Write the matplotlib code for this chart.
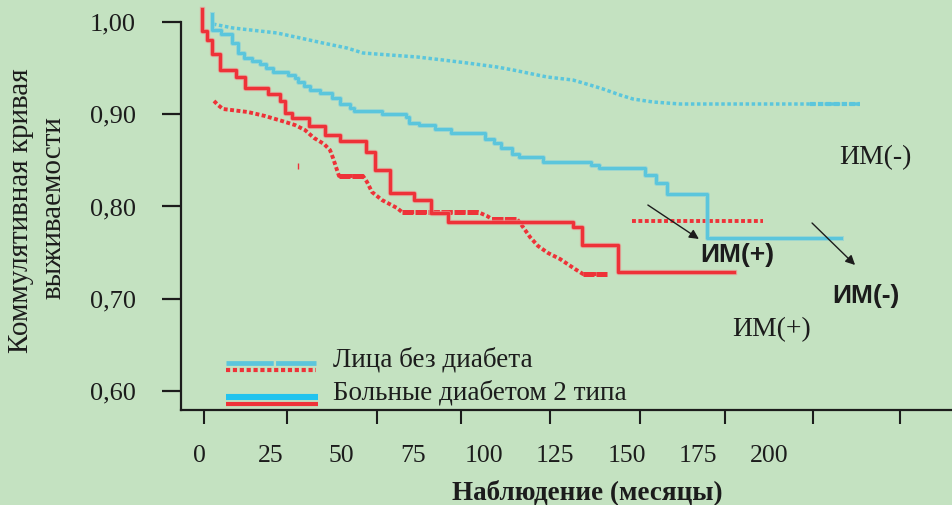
import matplotlib
matplotlib.use('Agg')
import matplotlib.pyplot as plt
import matplotlib.patheffects as pe

BG = '#c4e2c1'
CYAN = '#5bc6dc'
RED = '#ee3238'
LEG_CYAN = '#22c3ee'
INK = '#1c1c1c'

# --- data (months, survival) ---
# diabetes type 2, MI(+)  (red solid)
dm_pos_t = [1.05, 1.05, 2.81, 4.56, 7.37, 12.98, 16.14, 24.21, 28.42, 30.18, 32.63,
            38.60, 44.21, 49.47, 58.60, 61.75, 67.02, 75.44, 81.40, 87.37, 131.2,
            134.4, 147.0, 187.7]
dm_pos_s = [1.0141, 0.9902, 0.9805, 0.9653, 0.9480, 0.9404, 0.9285, 0.9220, 0.9144,
            0.9014, 0.8959, 0.8873, 0.8775, 0.8710, 0.8591, 0.8396, 0.8146, 0.8070,
            0.7930, 0.7832, 0.7778, 0.7583, 0.7290, 0.7290]

# diabetes type 2, MI(-)  (cyan solid)
dm_neg_t = [4.56, 4.56, 7.72, 11.58, 13.68, 15.79, 18.6, 21.4, 23.5, 25.96, 31.2, 33.7,
            34.7, 36.8, 38.9, 42.5, 46.7, 49.5, 53.0, 54.4, 64.2, 72.6, 73.7, 77.2,
            82.8, 88.4, 100.4, 103.5, 106.0, 109.8, 112.3, 120.7, 137.5, 140.4, 156.5,
            160.4, 164.2, 178.2, 225.3]
dm_neg_s = [1.0087, 0.9913, 0.9870, 0.9772, 0.9664, 0.9610, 0.9577, 0.9545, 0.9501,
            0.9458, 0.9425, 0.9393, 0.9350, 0.9306, 0.9263, 0.9230, 0.9176, 0.9111,
            0.9068, 0.9035, 0.9003, 0.8970, 0.8905, 0.8883, 0.8840, 0.8797, 0.8732,
            0.8688, 0.8634, 0.8569, 0.8537, 0.8482, 0.8450, 0.8417, 0.8341, 0.8255,
            0.8136, 0.7659, 0.7659]

# no diabetes, MI(-)  (cyan dotted)
nodm_neg_t = [4.91, 11.93, 27.37, 35.44, 43.51, 51.93, 57.54, 67.02, 76.49, 85.61,
              94.04, 104.56, 110.18, 122.1, 131.2, 137.2, 141.75, 147.7, 152.3, 159.3,
              168.8, 214.4, 231.9]
nodm_neg_s = [0.9978, 0.9935, 0.9881, 0.9827, 0.9772, 0.9718, 0.9664, 0.9642, 0.9621,
              0.9588, 0.9556, 0.9512, 0.9480, 0.9404, 0.9371, 0.9317, 0.9274, 0.9209,
              0.9165, 0.9133, 0.9111, 0.9111, 0.9111]

# no diabetes, MI(+)  (red dotted)
nodm_pos_t = [5.26, 6.67, 8.42, 17.19, 23.16, 29.12, 33.68, 37.19, 40.35, 43.86, 45.96,
              47.02, 48.07, 49.12, 57.54, 58.95, 60.70, 64.21, 69.47, 71.23, 97.89,
              101.05, 102.81, 111.58, 113.68, 116.14, 118.95, 122.46, 126.67, 131.93,
              134.74, 143.16]
nodm_pos_s = [0.9144, 0.9100, 0.9057, 0.9024, 0.8981, 0.8927, 0.8883, 0.8829, 0.8743,
              0.8678, 0.8612, 0.8526, 0.8428, 0.8331, 0.8331, 0.8266, 0.8157, 0.8070,
              0.7984, 0.7940, 0.7940, 0.7897, 0.7864, 0.7864, 0.7778, 0.7669, 0.7572,
              0.7496, 0.7431, 0.7322, 0.7268, 0.7268]

# thicker censored runs on the dotted curves: (start, end, level)
red_runs = [(49.12, 57.54, 0.8331), (71.23, 97.89, 0.7940),
            (102.81, 111.58, 0.7864), (134.74, 143.16, 0.7268)]
cyan_runs = [(214.4, 231.9, 0.9111)]

# short red dotted level on the right
ref_t = [151.9, 197.9]
ref_s = [0.7843, 0.7843]

tick_vals = [0, 25, 50, 75, 100, 125, 150, 175, 200]
tick_marks = [1.75, 30.88, 62.46, 91.93, 123.16, 154.74, 184.56, 215.44, 245.96]
y_vals = [0.60, 0.70, 0.80, 0.90, 1.00]
y_labels = ['0,60', '0,70', '0,80', '0,90', '1,00']

plt.rcParams['font.family'] = ['Liberation Serif', 'DejaVu Serif']

fig = plt.figure(figsize=(9.53, 5.05), dpi=100, facecolor=BG)
ax = fig.add_axes([181 / 953, 95 / 505, 772 / 953, 410 / 505])
ax.set_facecolor(BG)
ax.set_xlim(-6.316, 264.56)
ax.set_ylim(0.5794, 1.02385)

red_halo = [pe.Stroke(linewidth=3.8, foreground='#e79a92', alpha=0.7), pe.Normal()]
cyan_halo = [pe.Stroke(linewidth=3.6, foreground='#8fd3d6', alpha=0.7), pe.Normal()]

ax.plot(nodm_neg_t, nodm_neg_s, color=CYAN, lw=2.5, linestyle=(0, (1, 0.75)),
        dash_capstyle='butt')
ax.plot(nodm_pos_t, nodm_pos_s, color=RED, lw=2.8, linestyle=(0, (1, 0.65)),
        dash_capstyle='butt')
for a, b, s in red_runs:
    ax.plot([a, b], [s, s], color=RED, lw=3.6, linestyle=(0, (2.2, 0.4)),
            dash_capstyle='butt')
for a, b, s in cyan_runs:
    ax.plot([a, b], [s, s], color=CYAN, lw=3.0, linestyle=(0, (1.3, 0.6)),
            dash_capstyle='butt')
ax.plot(ref_t, ref_s, color=RED, lw=2.8, linestyle=(0, (1, 0.65)), dash_capstyle='butt')

ax.plot(dm_neg_t, dm_neg_s, color=CYAN, lw=2.2, drawstyle='steps-post',
        path_effects=cyan_halo)
ax.plot(dm_pos_t, dm_pos_s, color=RED, lw=2.4, drawstyle='steps-post',
        path_effects=red_halo)
ax.plot([34.7], [0.8439], marker='|', color=RED, ms=4, mew=1)

# arrows
ax.annotate('', xy=(175.4, 0.7648), xytext=(157.5, 0.8016),
            arrowprops=dict(arrowstyle='-|>', color=INK, lw=1.0,
                            mutation_scale=14, shrinkA=0, shrinkB=0))
ax.annotate('', xy=(230.2, 0.7366), xytext=(215.1, 0.7821),
            arrowprops=dict(arrowstyle='-|>', color=INK, lw=1.0,
                            mutation_scale=14, shrinkA=0, shrinkB=0))

ax.text(237.2, 0.8531, 'ИМ(-)', fontsize=20, ha='center', va='center', color=INK)
ax.text(201.05, 0.6667, 'ИМ(+)', fontsize=20, ha='center', va='center', color=INK)
ax.text(188.8, 0.7474, 'ИМ(+)', fontsize=19, ha='center', va='center', color=INK,
        family='Liberation Sans', fontweight='bold')
ax.text(233.9, 0.7035, 'ИМ(-)', fontsize=19, ha='center', va='center', color=INK,
        family='Liberation Sans', fontweight='bold')

# legend drawn by hand
ax.plot([0.0583, 0.1749], [0.1146, 0.1146], transform=ax.transAxes, color=CYAN, lw=3.4,
        linestyle=(0, (10, 0.5)), dash_capstyle='butt', clip_on=False)
ax.plot([0.0583, 0.1749], [0.0976, 0.0976], transform=ax.transAxes, color=RED, lw=3.0,
        linestyle=(0, (1, 0.65)), dash_capstyle='butt', clip_on=False)
ax.plot([0.0583, 0.1775], [0.0317, 0.0317], transform=ax.transAxes, color=LEG_CYAN,
        lw=4.4, solid_capstyle='butt', clip_on=False)
ax.plot([0.0583, 0.1775], [0.0146, 0.0146], transform=ax.transAxes, color=RED, lw=3.0,
        solid_capstyle='butt', clip_on=False)
ax.text(0.1969, 0.122, 'Лица без диабета', transform=ax.transAxes, fontsize=19.5,
        va='center', ha='left', color=INK)
ax.text(0.1969, 0.0415, 'Больные диабетом 2 типа', transform=ax.transAxes, fontsize=19.5,
        va='center', ha='left', color=INK)

# axes styling
for side in ['top', 'right']:
    ax.spines[side].set_visible(False)
ax.spines['left'].set_bounds(0.5794, 1.0)
ax.spines['left'].set_linewidth(1.6)
ax.spines['bottom'].set_linewidth(1.6)
ax.spines['left'].set_color(INK)
ax.spines['bottom'].set_color(INK)

ax.set_xticks(tick_vals)
ax.set_xticklabels([str(v) for v in tick_vals])
ax.set_xticks(tick_marks, minor=True)
ax.tick_params(axis='x', which='major', length=0, pad=25, labelsize=18.5,
               labelcolor=INK)
ax.tick_params(axis='x', which='minor', length=10, width=1.5, color=INK)
ax.set_yticks(y_vals)
ax.set_yticklabels(y_labels)
ax.tick_params(axis='y', which='major', length=13.7, width=1.6, pad=19, labelsize=19,
               color=INK, labelcolor=INK)

fig.text(587 / 953, 1 - 492 / 505, 'Наблюдение (месяцы)', fontsize=19.5, fontweight='bold',
         ha='center', va='center', color=INK)
fig.text(21 / 953, 1 - 211 / 505, 'Коммулятивная кривая', fontsize=21, rotation=90,
         ha='center', va='center', color=INK)
fig.text(54 / 953, 1 - 208 / 505, 'выживаемости', fontsize=21, rotation=90,
         ha='center', va='center', color=INK)

fig.savefig('out.png', dpi=100, facecolor=BG)
